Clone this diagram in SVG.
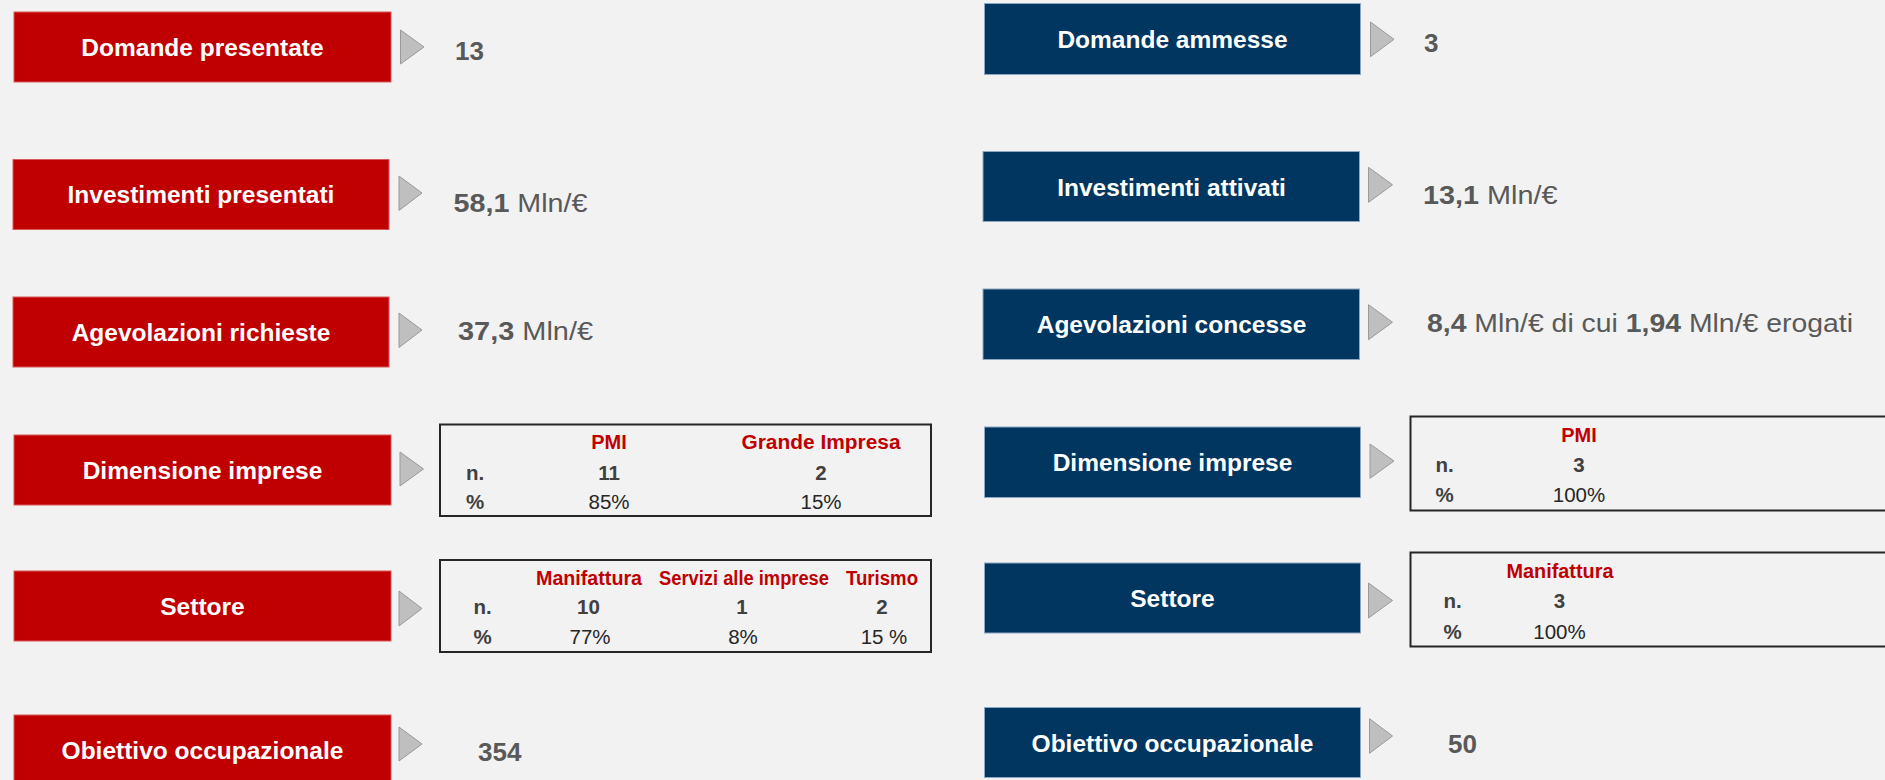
<svg xmlns="http://www.w3.org/2000/svg" width="1885" height="780" viewBox="0 0 1885 780">
<style>
.bg{fill:#F2F2F2}
.red{fill:#C00000;stroke:#D9595B;stroke-width:1}
.navy{fill:#00365F;stroke:#8FA6C0;stroke-width:1}
.lbl{font-family:"Liberation Sans",Arial,sans-serif;font-weight:bold;font-size:24.5px;fill:#FFFFFF;text-anchor:middle}
.val{font-family:"Liberation Sans",Arial,sans-serif;font-size:26px;fill:#595959}
.b{font-weight:bold}
.arr{fill:#BFBFBF;stroke:#9A9A9A;stroke-width:1}
.tbl{fill:none;stroke:#262626;stroke-width:2}
.th{font-family:"Liberation Sans",Arial,sans-serif;font-weight:bold;font-size:20px;fill:#C00000;text-anchor:middle}
.tn{font-family:"Liberation Sans",Arial,sans-serif;font-weight:bold;font-size:20.5px;fill:#404040}
.tc{text-anchor:middle}
.tp{font-family:"Liberation Sans",Arial,sans-serif;font-size:20.5px;fill:#262626;text-anchor:middle}
</style>
<rect class="bg" x="0" y="0" width="1885" height="780"/>

<g id="connectors">
<polygon class="arr" points="400.5,30 424,47 400.5,64"/>
<polygon class="arr" points="399,176 422,193 399,210.5"/>
<polygon class="arr" points="399,313 422,330 399,347.5"/>
<polygon class="arr" points="400,452 423.5,469 400,486"/>
<polygon class="arr" points="399,591 422,608.5 399,626"/>
<polygon class="arr" points="399,727 422,744 399,761"/>
<polygon class="arr" points="1370.5,22 1394,39.3 1370.5,56.7"/>
<polygon class="arr" points="1368.5,167.3 1392.5,184.8 1368.5,202.3"/>
<polygon class="arr" points="1368.5,304.7 1392.5,322.2 1368.5,339.7"/>
<polygon class="arr" points="1370,444 1394,461 1370,478.3"/>
<polygon class="arr" points="1368.5,583 1392.5,600.5 1368.5,618"/>
<polygon class="arr" points="1369.5,718.7 1392.5,736 1369.5,753.3"/>
</g>

<g id="domande-presentate">
<rect class="red" x="14" y="12" width="377" height="70"/>
<text class="lbl" x="202.5" y="56">Domande presentate</text>
<text class="val b" x="455" y="60">13</text>
</g>

<g id="investimenti-presentati">
<rect class="red" x="13" y="159.5" width="376" height="70"/>
<text class="lbl" x="201" y="203">Investimenti presentati</text>
<text class="val" x="453.5" y="211.5" textLength="134" lengthAdjust="spacingAndGlyphs"><tspan class="b">58,1</tspan> Mln/€</text>
</g>

<g id="agevolazioni-richieste">
<rect class="red" x="13" y="297" width="376" height="70"/>
<text class="lbl" x="201" y="341">Agevolazioni richieste</text>
<text class="val" x="458" y="340" textLength="135" lengthAdjust="spacingAndGlyphs"><tspan class="b">37,3</tspan> Mln/€</text>
</g>

<g id="dimensione-imprese-presentate">
<rect class="red" x="14" y="435" width="377" height="70"/>
<text class="lbl" x="202.5" y="479">Dimensione imprese</text>
<rect class="tbl" x="440" y="424.5" width="491" height="91.5"/>
<text class="th" x="609" y="449">PMI</text>
<text class="th" x="821" y="449" textLength="159" lengthAdjust="spacingAndGlyphs">Grande Impresa</text>
<text class="tn" x="466" y="479.5">n.</text>
<text class="tn tc" x="609" y="479.5">11</text>
<text class="tn tc" x="821" y="479.5">2</text>
<text class="tn" x="466" y="509">%</text>
<text class="tp" x="609" y="509">85%</text>
<text class="tp" x="821" y="509">15%</text>
</g>

<g id="settore-presentate">
<rect class="red" x="14" y="571" width="377" height="70"/>
<text class="lbl" x="202.5" y="615">Settore</text>
<rect class="tbl" x="440" y="560" width="491" height="92"/>
<text class="th" x="589" y="585" textLength="106" lengthAdjust="spacingAndGlyphs">Manifattura</text>
<text class="th" x="744" y="585" textLength="170" lengthAdjust="spacingAndGlyphs">Servizi alle imprese</text>
<text class="th" x="882" y="585" textLength="72" lengthAdjust="spacingAndGlyphs">Turismo</text>
<text class="tn" x="473.5" y="614">n.</text>
<text class="tn tc" x="588.5" y="614">10</text>
<text class="tn tc" x="742" y="614">1</text>
<text class="tn tc" x="882" y="614">2</text>
<text class="tn" x="473.5" y="644">%</text>
<text class="tp" x="590" y="644">77%</text>
<text class="tp" x="743" y="644">8%</text>
<text class="tp" x="884" y="644">15 %</text>
</g>

<g id="obiettivo-occupazionale-presentate">
<rect class="red" x="14" y="715" width="377" height="72"/>
<text class="lbl" x="202.5" y="759">Obiettivo occupazionale</text>
<text class="val b" x="478" y="760.5">354</text>
</g>

<g id="domande-ammesse">
<rect class="navy" x="984.5" y="3.5" width="376" height="71"/>
<text class="lbl" x="1172.5" y="48">Domande ammesse</text>
<text class="val b" x="1424" y="51.5">3</text>
</g>

<g id="investimenti-attivati">
<rect class="navy" x="983" y="151.5" width="376.5" height="70"/>
<text class="lbl" x="1171.5" y="195.5">Investimenti attivati</text>
<text class="val" x="1423" y="203.5" textLength="134.5" lengthAdjust="spacingAndGlyphs"><tspan class="b">13,1</tspan> Mln/€</text>
</g>

<g id="agevolazioni-concesse">
<rect class="navy" x="983" y="289" width="376.5" height="70.5"/>
<text class="lbl" x="1171.5" y="333">Agevolazioni concesse</text>
<text class="val" x="1427" y="331.5" textLength="426" lengthAdjust="spacingAndGlyphs"><tspan class="b">8,4</tspan> Mln/€ di cui <tspan class="b">1,94</tspan> Mln/€ erogati</text>
</g>

<g id="dimensione-imprese-ammesse">
<rect class="navy" x="984.5" y="427" width="376" height="70.5"/>
<text class="lbl" x="1172.5" y="471">Dimensione imprese</text>
<rect class="tbl" x="1410.5" y="416.5" width="500" height="94"/>
<text class="th" x="1579" y="441.5">PMI</text>
<text class="tn" x="1435.5" y="472">n.</text>
<text class="tn tc" x="1579" y="472">3</text>
<text class="tn" x="1435.5" y="502">%</text>
<text class="tp" x="1579" y="502">100%</text>
</g>

<g id="settore-ammesse">
<rect class="navy" x="984.5" y="563" width="376" height="70"/>
<text class="lbl" x="1172.5" y="607">Settore</text>
<rect class="tbl" x="1410.5" y="552.5" width="500" height="94"/>
<text class="th" x="1560" y="578" textLength="107" lengthAdjust="spacingAndGlyphs">Manifattura</text>
<text class="tn" x="1443.5" y="608">n.</text>
<text class="tn tc" x="1559.5" y="608">3</text>
<text class="tn" x="1443.5" y="638.5">%</text>
<text class="tp" x="1559.5" y="638.5">100%</text>
</g>

<g id="obiettivo-occupazionale-ammesse">
<rect class="navy" x="984.5" y="707.5" width="376" height="70"/>
<text class="lbl" x="1172.5" y="751.5">Obiettivo occupazionale</text>
<text class="val b" x="1448" y="752.5">50</text>
</g>
</svg>
